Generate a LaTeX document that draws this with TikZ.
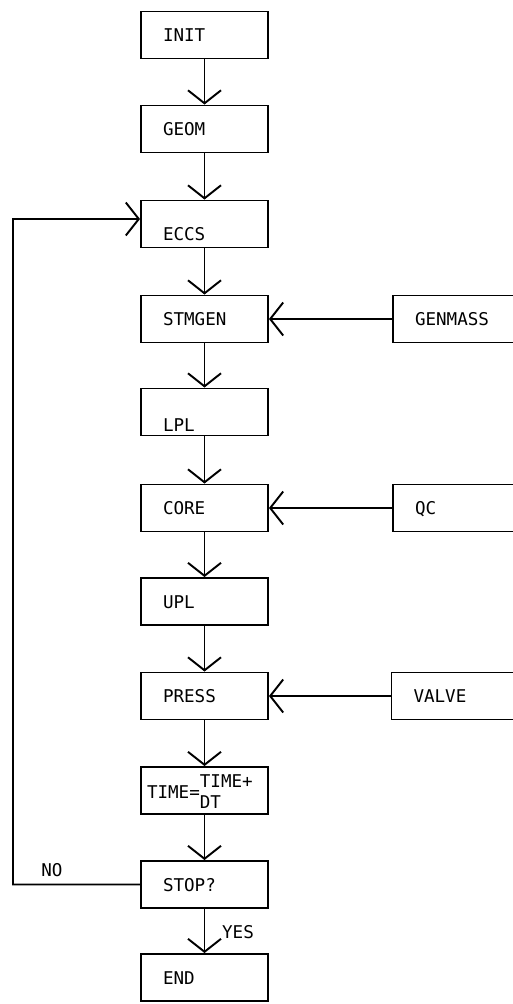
\documentclass[tikz,border=0pt]{standalone}
\usepackage{fontspec}
\setmainfont{DejaVu Sans Mono}
\usetikzlibrary{arrows.meta}
\begin{document}
\begin{tikzpicture}[
    x=0.02cm, y=-0.02cm,
    box/.style={draw, line width=1.1pt, minimum width=2.54cm, minimum height=0.94cm,
        inner xsep=0.44cm, inner ysep=0pt, text width=1.66cm, align=left,
        text height=0.26cm, text depth=0pt},
    lowbox/.style={box, text height=0.66cm},
    lowerbox/.style={box, text height=0.78cm},
    flow/.style={line width=1.1pt, -{Straight Barb[length=2.6mm, width=6.6mm]}}
]
    % Bounding box for padding
    \useasboundingbox (0, 0) rectangle (513, 1004);

    % --- Main column ---
    \node[box] (init) at (204.5, 35) {INIT};
    \node[box] (geom) at (204.5, 129) {GEOM};
    \node[lowbox] (eccs) at (204.5, 224) {ECCS};
    \node[box] (stmgen) at (204.5, 319) {STMGEN};
    \node[lowerbox] (lpl) at (204.5, 412) {LPL};
    \node[box] (core) at (204.5, 508) {CORE};
    \node[box] (upl) at (204.5, 601.5) {UPL};
    \node[box] (press) at (204.5, 696) {PRESS};
    \node[box, inner xsep=0.12cm, text width=2.3cm, text height=0.5cm, text depth=0.2cm]
        (tstep) at (204.5, 790.5) {TIME=\begin{tabular}{@{}l@{}}TIME+\\DT\end{tabular}};
    \node[box] (stop) at (204.5, 884.5) {STOP?};
    \node[box] (finish) at (204.5, 977.5) {END};

    % --- Side inputs ---
    \node[box] (genmass) at (456.5, 319) {GENMASS};
    \node[box] (qc) at (456.5, 508) {QC};
    \node[box] (valve) at (455, 696) {VALVE};

    \draw[flow] (init) -- (geom);
    \draw[flow] (geom) -- (eccs);
    \draw[flow] (eccs) -- (stmgen);
    \draw[flow] (stmgen) -- (lpl);
    \draw[flow] (lpl) -- (core);
    \draw[flow] (core) -- (upl);
    \draw[flow] (upl) -- (press);
    \draw[flow] (press) -- (tstep);
    \draw[flow] (tstep) -- (stop);
    \draw[flow] (stop) -- (finish);

    \draw[flow] (genmass) -- (stmgen);
    \draw[flow] (qc) -- (core);
    \draw[flow] (valve) -- (press);

    % --- Loop back ---
    \coordinate (loop) at (13, 219);
    \draw[flow] (stop.west) -| (loop) -- ([yshift=0.1cm]eccs.west);

    \node (no) at (52, 870) {NO};
    \node (yes) at (238, 932) {YES};
\end{tikzpicture}
\end{document}
